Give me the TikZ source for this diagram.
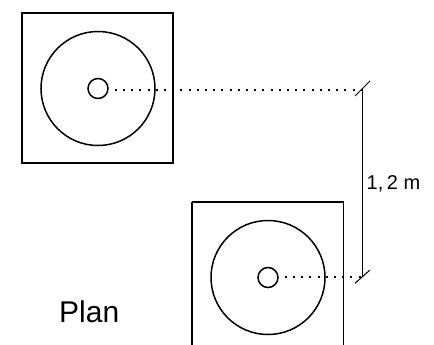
\documentclass[tikz,border=0pt]{standalone}
\usepackage{fontspec}
\setmainfont{Liberation Sans}
\usetikzlibrary{calc}
\tikzset{
  px/.style={x=1pt,y=-1pt},
  outline/.style={draw=black,line width=1.6pt},
  dim/.style={draw=black,line width=1pt},
  dotline/.style={draw=black,line width=2pt,dash pattern=on 2pt off 6.2pt},
  hub/.style={circle,draw=black,line width=1.5pt,minimum size=20pt,inner sep=0pt,fill=white},
  disc/.style={circle,draw=black,line width=1.5pt,minimum size=114pt,inner sep=0pt}
}
\begin{document}
\begin{tikzpicture}[px]
\useasboundingbox (0,0) rectangle (434,345);
\clip (0,0) rectangle (434,345);
\draw[outline] (22,13) rectangle (173,163);
\draw[outline] (192,202) -- (343.5,202) -- (343.5,350);
\draw[outline] (192,202) -- (192,350);
\node[disc] (d1) at (98,88.5) {};
\node[disc] (d2) at (268,277.5) {};
\node[hub] (h1) at (98,88.5) {};
\node[hub] (h2) at (268,277.5) {};
\coordinate (t1) at (362.5,90);
\coordinate (t2) at (362.5,277);
\draw[dotline] (h1.east) ++(6,1.5) -- (t1);
\draw[dotline] (h2.east) ++(6,-0.5) -- (t2);
\draw[dim] (t1) -- (t2);
\draw[dim] ($(t1)+(-7.5,6)$) -- ($(t1)+(7.5,-9)$);
\draw[dim] ($(t2)+(-7.5,6.3)$) -- ($(t2)+(7.5,-7)$);
\node[font=\fontsize{20pt}{22pt}\selectfont,anchor=base west,inner sep=0pt] (dimlabel) at (366.5,189) {1,\kern3.5pt 2 m};
\node[font=\fontsize{30pt}{33pt}\selectfont,anchor=base west,inner sep=0pt] (plan) at (59,322.5) {Plan};
\end{tikzpicture}
\end{document}
